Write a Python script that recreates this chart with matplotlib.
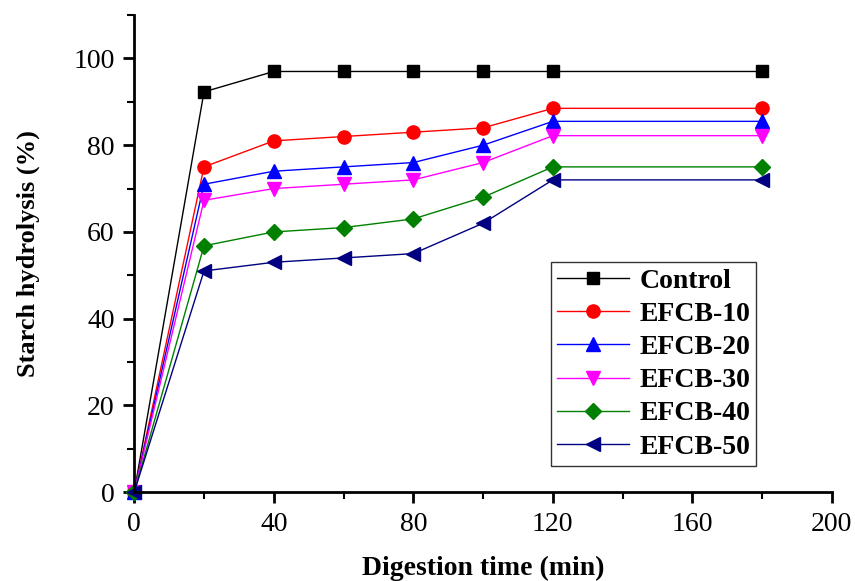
import matplotlib
matplotlib.use("Agg")
import matplotlib.pyplot as plt
from matplotlib.ticker import MultipleLocator

time_min = [0, 20, 40, 60, 80, 100, 120, 180]
series_names = ["Control", "EFCB-10", "EFCB-20", "EFCB-30", "EFCB-40", "EFCB-50"]
control = [0, 92.3, 97, 97, 97, 97, 97, 97]
efcb10 = [0, 75, 81, 82, 83, 84, 88.5, 88.5]
efcb20 = [0, 71, 74, 75, 76, 80, 85.5, 85.5]
efcb30 = [0, 67.3, 70, 71, 72, 76, 82.2, 82.2]
efcb40 = [0, 56.8, 60, 61, 63, 68, 75, 75]
efcb50 = [0, 51, 53, 54, 55, 62, 72, 72]

values = [control, efcb10, efcb20, efcb30, efcb40, efcb50]
colors = ["#000000", "#ff0000", "#0000ff", "#ff00ff", "#008000", "#000080"]
markers = ["s", "o", "^", "v", "D", "<"]
msizes = [8.5, 9.5, 9.5, 9.5, 8, 9.5]

plt.rcParams['font.family'] = ['Liberation Serif', 'DejaVu Serif']

fig = plt.figure(figsize=(8.55, 5.81), dpi=100)
ax = fig.add_axes([0.157, 0.153, 0.973 - 0.157, 0.974 - 0.153])

for name, vals, c, m, ms in zip(series_names, values, colors, markers, msizes):
    ax.plot(time_min, vals, color=c, marker=m, markersize=ms, linewidth=1.0,
            markeredgecolor=c, markerfacecolor=c, label=name, clip_on=False)

ax.set_xlim(0, 200)
ax.set_ylim(0, 110)
ax.xaxis.set_major_locator(MultipleLocator(40))
ax.xaxis.set_minor_locator(MultipleLocator(20))
ax.yaxis.set_major_locator(MultipleLocator(20))
ax.yaxis.set_minor_locator(MultipleLocator(10))
ax.spines['top'].set_visible(False)
ax.spines['right'].set_visible(False)
for s in ['left', 'bottom']:
    ax.spines[s].set_linewidth(2)
ax.tick_params(which='major', direction='out', length=8, width=2, labelsize=20, pad=6)
ax.tick_params(which='minor', direction='out', length=5, width=1.5)

ax.set_xlabel("Digestion time (min)", fontsize=20, fontweight='bold', labelpad=14)
ax.set_ylabel("Starch hydrolysis (%)", fontsize=19, fontweight='bold', labelpad=24)

leg = ax.legend(loc='upper left', bbox_to_anchor=(551 / 855, 1 - 262 / 581),
                bbox_transform=fig.transFigure, prop={'weight': 'bold', 'size': 20},
                frameon=True, fancybox=False, edgecolor='black', handlelength=2.6,
                labelspacing=0.28, borderpad=0.22, handletextpad=0.36, borderaxespad=0)
leg.get_frame().set_linewidth(1.0)

fig.savefig("out.png", dpi=100)
